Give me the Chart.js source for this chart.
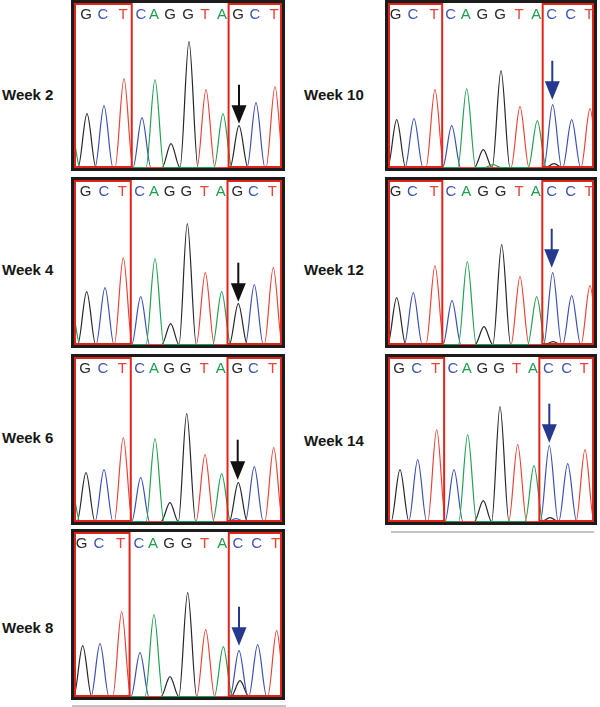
<!DOCTYPE html>
<html>
<head>
<meta charset="utf-8">
<script src="https://cdn.jsdelivr.net/npm/chart.js@4.4.1/dist/chart.umd.min.js"></script>
<style>
  html, body { margin:0; padding:0; background:#fff; }
  body { width:600px; height:707px; position:relative; overflow:hidden; font-family:"Liberation Sans", Arial, Helvetica, sans-serif; }
  .lbl { position:absolute; font-weight:bold; font-size:15px; line-height:16px; color:#161616; white-space:nowrap; }
  canvas.panel { position:absolute; }
  .rule { position:absolute; height:2px; background:#c4c4c4; }
</style>
</head>
<body>
<script>
// ---------------- DATA ----------------
const weekLabels = ['Week 2', 'Week 4', 'Week 6', 'Week 8', 'Week 10', 'Week 12', 'Week 14'];
const refBases = ['G','C','T','C','A','G','G','T','A','G','C','T'];
const mutBases = ['G','C','T','C','A','G','G','T','A','C','C','T'];
const basesByWeek = [refBases, refBases, refBases, mutBases, mutBases, mutBases, mutBases];

// main peak positions (trace scan units) and heights (signal) for each week
const pos_w2  = [16, 33, 53, 71, 84, 100, 118, 135, 152, 168, 185, 204];
const hgt_w2  = [54, 62, 89, 50, 88, 24, 126, 78, 54, 42, 65, 81];
const pos_w4  = [15.7, 34, 52.3, 69.7, 84, 99.7, 116.3, 134.3, 150.7, 167.3, 183.3, 202.3];
const hgt_w4  = [53, 57, 87, 48, 86, 21, 121, 72, 53, 41, 60, 77];
const pos_w6  = [15, 33, 52.3, 69.7, 84, 99, 115.7, 134, 150.7, 167.3, 183.3, 202.7];
const hgt_w6  = [49, 52, 84, 44, 83, 19, 108, 67, 48, 39, 55, 74];
const pos_w8  = [11.7, 29, 50.7, 69, 83, 99, 116.7, 134.7, 152.3, 168, 186.7, 205.7];
const hgt_w8  = [51, 53, 85, 44, 82, 20, 104, 67, 50, 46, 52, 66];
const pos_w10 = [11.7, 29, 50, 66.7, 81.7, 98.3, 116, 135, 152.3, 167.7, 186.7, 205];
const hgt_w10 = [48, 49, 78, 42, 79, 18, 97, 61, 47, 63, 48, 59];
const pos_w12 = [11.7, 28.3, 50, 67, 82.3, 99, 116.7, 135, 151.7, 167.7, 186.7, 205];
const hgt_w12 = [47, 52, 79, 44, 83, 18, 100, 68, 48, 72, 49, 59];
const pos_w14 = [15, 32.7, 51.7, 69, 82.7, 98.3, 115, 132.7, 149, 164.3, 182.7, 200];
const hgt_w14 = [52, 62, 92, 52, 87, 21, 115, 77, 56, 76, 58, 72];

// minor / background peaks
const minorBase_w2 = ['A'];       const minorPos_w2 = [0];        const minorHgt_w2 = [40];
const minorBase_w4 = ['A'];       const minorPos_w4 = [0];        const minorHgt_w4 = [40];
const minorBase_w6 = ['A','C'];   const minorPos_w6 = [0, 165];   const minorHgt_w6 = [36, 3];
const minorBase_w8 = ['G'];       const minorPos_w8 = [169];      const minorHgt_w8 = [16];
const minorBase_w10 = ['G','A'];  const minorPos_w10 = [169, 108]; const minorHgt_w10 = [4, 3];
const minorBase_w12 = ['G'];      const minorPos_w12 = [168];     const minorHgt_w12 = [3];
const minorBase_w14 = ['G'];      const minorPos_w14 = [165];     const minorHgt_w14 = [4];

// mutation-site arrows (scan position, top signal, tip signal)
const arrowX   = [168, 167.3, 166.7, 168, 167.3, 166.7, 164.3];
const arrowTop = [83, 82, 82, 90, 107, 116, 118];
const arrowTip = [44, 43, 42, 51, 68, 77, 79];

const posByWeek = [pos_w2, pos_w4, pos_w6, pos_w8, pos_w10, pos_w12, pos_w14];
const hgtByWeek = [hgt_w2, hgt_w4, hgt_w6, hgt_w8, hgt_w10, hgt_w12, hgt_w14];
const minorBaseByWeek = [minorBase_w2, minorBase_w4, minorBase_w6, minorBase_w8, minorBase_w10, minorBase_w12, minorBase_w14];
const minorPosByWeek = [minorPos_w2, minorPos_w4, minorPos_w6, minorPos_w8, minorPos_w10, minorPos_w12, minorPos_w14];
const minorHgtByWeek = [minorHgt_w2, minorHgt_w4, minorHgt_w6, minorHgt_w8, minorHgt_w10, minorHgt_w12, minorHgt_w14];

// ---------------- LAYOUT / STYLE ----------------
const panelLeft = [71, 71, 71, 71, 385, 385, 385];
const panelTop  = [0, 177, 354, 529, 0, 177, 354];
const panelW    = [214, 214, 214, 214, 212, 212, 212];
const PANEL_H = 171;
const labelX  = [2, 2, 2, 2, 304, 304, 304];
const labelCY = [95, 269.5, 438.3, 628.3, 95, 269.5, 440.7];
const PEAK_HALF_WIDTH = 9;

const traceColor  = { G:'#262626', C:'#3b50b2', T:'#e8443a', A:'#22a052' };
const letterColor = { G:'#2a2a2a', C:'#3d55b5', T:'#e8443a', A:'#1f9e50' };
const arrowColor  = { G:'#111111', C:'#27398f' };

function channelPoints(base, seq, pos, hgt, mBase, mPos, mHgt, xMin, xMax) {
  const peaks = [];
  seq.forEach((b, i) => { if (b === base) peaks.push([pos[i], hgt[i]]); });
  mBase.forEach((b, i) => { if (b === base) peaks.push([mPos[i], mHgt[i]]); });
  peaks.sort((a, b) => a[0] - b[0]);
  const pts = [{ x: xMin - 20, y: 0 }];
  peaks.forEach(([p, h]) => {
    const s = p - PEAK_HALF_WIDTH;
    const last = pts[pts.length - 1];
    if (s <= last.x) {
      if (pts.length > 1) last.x = (pts[pts.length - 2].x + p) / 2;
    } else {
      pts.push({ x: s, y: 0 });
    }
    pts.push({ x: p, y: h });
    pts.push({ x: p + PEAK_HALF_WIDTH, y: 0 });
  });
  pts.push({ x: xMax + 20, y: 0 });
  return pts;
}

const panelDecor = {
  id: 'panelDecor',
  afterDatasetsDraw(chart, args, o) {
    const ctx = chart.ctx;
    const xs = chart.scales.x, ys = chart.scales.y;
    const W = chart.width, H = chart.height;
    const pos = o.pos, seq = o.seq;
    ctx.save();
    // red region boxes
    const b1 = xs.getPixelForValue(pos[2] + 0.43 * (pos[3] - pos[2]));
    const b2 = xs.getPixelForValue(pos[8] + 0.35 * (pos[9] - pos[8]));
    ctx.strokeStyle = '#e2231a';
    ctx.lineWidth = 2;
    ctx.strokeRect(4, 4, b1 - 4, H - 8);
    ctx.strokeRect(b2, 4, (W - 4) - b2, H - 8);
    // base letters
    ctx.font = '15px "Liberation Sans", Arial, Helvetica, sans-serif';
    ctx.textAlign = 'center';
    ctx.textBaseline = 'alphabetic';
    seq.forEach((b, i) => {
      ctx.fillStyle = letterColor[b];
      ctx.fillText(b, xs.getPixelForValue(pos[i]) - 1, 18.5);
    });
    // arrow
    const ax = xs.getPixelForValue(o.arrowX);
    const at = ys.getPixelForValue(o.arrowTop);
    const ap = ys.getPixelForValue(o.arrowTip);
    const col = arrowColor[seq[9]];
    ctx.strokeStyle = col; ctx.fillStyle = col;
    ctx.lineWidth = 2;
    ctx.beginPath(); ctx.moveTo(ax, at); ctx.lineTo(ax, ap - 15); ctx.stroke();
    ctx.beginPath();
    ctx.moveTo(ax - 7.5, ap - 18.5);
    ctx.lineTo(ax + 7.5, ap - 18.5);
    ctx.lineTo(ax, ap);
    ctx.closePath(); ctx.fill();
    // black frame
    ctx.strokeStyle = '#1c1c1c';
    ctx.lineWidth = 3;
    ctx.strokeRect(1.5, 1.5, W - 3, H - 3);
    ctx.restore();
  }
};

weekLabels.forEach((label, k) => {
  const W = panelW[k], H = PANEL_H;
  const cv = document.createElement('canvas');
  cv.className = 'panel';
  cv.width = W; cv.height = H;
  cv.style.left = panelLeft[k] + 'px';
  cv.style.top = panelTop[k] + 'px';
  document.body.appendChild(cv);

  const lab = document.createElement('div');
  lab.className = 'lbl';
  lab.textContent = label;
  lab.style.left = labelX[k] + 'px';
  lab.style.top = (labelCY[k] - 8) + 'px';
  document.body.appendChild(lab);

  const seq = basesByWeek[k];
  const xMin = 3, xMax = W - 3;
  const datasets = ['A', 'T', 'C', 'G'].map(b => ({
    label: b,
    data: channelPoints(b, seq, posByWeek[k], hgtByWeek[k], minorBaseByWeek[k], minorPosByWeek[k], minorHgtByWeek[k], xMin, xMax),
    borderColor: traceColor[b],
    borderWidth: 1.2,
    pointRadius: 0,
    fill: false,
    cubicInterpolationMode: 'monotone'
  }));

  new Chart(cv, {
    type: 'line',
    data: { datasets },
    options: {
      responsive: false,
      maintainAspectRatio: false,
      animation: false,
      events: [],
      layout: { padding: { left: 3, right: 3, top: 5, bottom: 3 } },
      scales: {
        x: { type: 'linear', display: false, min: xMin, max: xMax },
        y: { type: 'linear', display: false, min: -0.3, max: 162.7 }
      },
      plugins: {
        legend: { display: false },
        tooltip: { enabled: false },
        panelDecor: { pos: posByWeek[k], seq: seq, arrowX: arrowX[k], arrowTop: arrowTop[k], arrowTip: arrowTip[k] }
      }
    },
    plugins: [panelDecor]
  });
});

// thin grey rules under each column
[[72, 705, 214], [391, 531, 203]].forEach(([l, t, w]) => {
  const d = document.createElement('div');
  d.className = 'rule';
  d.style.left = l + 'px'; d.style.top = t + 'px'; d.style.width = w + 'px';
  document.body.appendChild(d);
});
</script>
</body>
</html>
